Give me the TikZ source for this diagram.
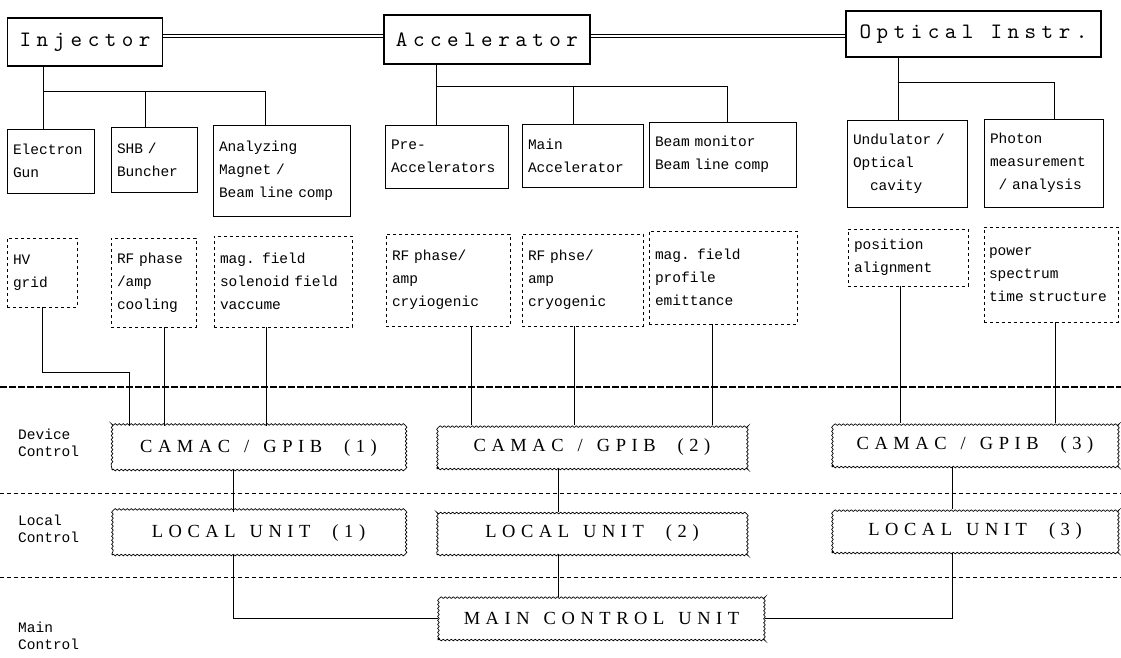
\documentclass[tikz,border=0pt]{standalone}
\usepackage{fontspec}
\usetikzlibrary{positioning, decorations.pathmorphing}
\newfontfamily\dotfont{Liberation Mono}
\newfontfamily\sysfont[LetterSpace=25]{lmmono10-regular.otf}
\newfontfamily\unitfont[LetterSpace=30]{Liberation Serif}
\newcommand{\gap}{\hspace{14pt}}
\newcommand{\numgap}{\hspace{22pt}}

\begin{document}
\begin{tikzpicture}[x=1pt, y=-1pt,
        sysbox/.style={draw, line width=1.5pt, inner sep=0pt, font=\sysfont\fontsize{22}{24}\selectfont},
        part/.style={draw, line width=0.9pt, inner xsep=6pt, inner ysep=0pt, align=left,
                     font=\dotfont\fontsize{14.5}{23}\selectfont},
        param/.style={part, line width=0.8pt, dash pattern=on 3pt off 3pt},
        unit/.style={draw, line width=0.7pt, inner sep=0pt, decorate,
                     decoration={snake, segment length=4pt, amplitude=0.8pt},
                     font=\unitfont\fontsize{18.5}{20}\selectfont},
        wire/.style={line width=0.9pt},
        dbl/.style={double, double distance=1.4pt, line width=1pt},
        lvl/.style={align=left, anchor=west, inner sep=0pt, font=\dotfont\fontsize{14.5}{17}\selectfont},
    ]
    \useasboundingbox (0,0) rectangle (1121,657);

    % top level systems
    \node[sysbox, minimum width=155pt, minimum height=48pt] (inj) at (85,42) {Injector};
    \node[sysbox, minimum width=206pt, minimum height=49pt] (acc) at (487,39.5) {Accelerator};
    \node[sysbox, minimum width=255pt, minimum height=46pt] (opt) at (973.5,34) {Optical Instr.};
    \coordinate (lnk) at (0,36);
    \draw[dbl] (inj.east |- lnk) -- (acc.west |- lnk);
    \draw[dbl] (acc.east |- lnk) -- (opt.west |- lnk);

    % components
    \node[part, text width=75pt, minimum height=64pt] (gun) at (50.5,161) {Electron\\Gun};
    \node[part, text width=74pt, minimum height=65pt] (shb) at (154,159.5) {SHB /\\Buncher};
    \node[part, text width=125pt, minimum height=91pt] (anl) at (281.5,170.5) {Analyzing\\Magnet /\\Beam line comp};
    \node[part, text width=111pt, minimum height=63pt] (pre) at (446.5,156.5) {Pre-\\Accelerators};
    \node[part, text width=109pt, minimum height=63pt] (macc) at (582.5,155.5) {Main\\Accelerator};
    \node[part, text width=135pt, minimum height=65pt] (beam) at (722.5,154.5) {Beam monitor\\Beam line comp};
    \node[part, text width=108pt, minimum height=87pt] (und) at (907,163.5) {Undulator /\\Optical\\\hspace*{17pt}cavity};
    \node[part, text width=107pt, minimum height=88pt] (pho) at (1043.5,163) {Photon\\measurement\\\hspace*{8.7pt}/ analysis};

    % tree branches
    \coordinate (ib1) at (43,91);
    \coordinate (ib2) at (145,91);
    \coordinate (ib3) at (265,91);
    \draw[wire] (inj.south -| ib1) -- (gun.north -| ib1);
    \draw[wire] (ib1) -- (ib3) -- (ib3 |- anl.north);
    \draw[wire] (ib2) -- (ib2 |- shb.north);
    \coordinate (ab1) at (436,86);
    \coordinate (ab2) at (573,86);
    \coordinate (ab3) at (727,86);
    \draw[wire] (acc.south -| ab1) -- (pre.north -| ab1);
    \draw[wire] (ab1) -- (ab3) -- (ab3 |- beam.north);
    \draw[wire] (ab2) -- (ab2 |- macc.north);
    \coordinate (ob1) at (898,82);
    \coordinate (ob2) at (1054,82);
    \draw[wire] (opt.south -| ob1) -- (und.north -| ob1);
    \draw[wire] (ob1) -- (ob2) -- (ob2 |- pho.north);

    % monitored parameters
    \node[param, text width=58pt, minimum height=69pt] (hv) at (42,272.5) {HV\\grid};
    \node[param, text width=73pt, minimum height=89pt] (rf1) at (153.5,282.5) {RF phase\\/amp\\cooling};
    \node[param, text width=126pt, minimum height=91pt] (mag1) at (283,281.5) {mag. field\\solenoid field\\vaccume};
    \node[param, text width=112pt, minimum height=92pt] (rf2) at (448,280) {RF phase/\\amp\\cryiogenic};
    \node[param, text width=109pt, minimum height=92pt] (rf3) at (582.5,280) {RF phse/\\amp\\cryogenic};
    \node[param, text width=136pt, minimum height=93pt] (mag2) at (723,277.5) {mag. field\\profile\\emittance};
    \node[param, text width=108pt, minimum height=57pt] (pos) at (908,257.5) {position\\alignment};
    \node[param, text width=124pt, inner xsep=5pt, minimum height=95pt] (pow) at (1051,274.5) {power\\spectrum\\time structure};

    % level borders
    \draw[line width=1.8pt, dash pattern=on 7pt off 2pt] (0,387) -- (1121,387);
    \draw[line width=0.6pt, dash pattern=on 4pt off 3pt] (0,493) -- (1121,493);
    \draw[line width=0.6pt, dash pattern=on 4pt off 3pt] (0,577) -- (1121,577);

    \node[lvl] (devlbl) at (18,443) {Device\\Control};
    \node[lvl] (loclbl) at (18,529) {Local\\Control};
    \node[lvl] (mainlbl) at (18,636) {Main\\Control};

    % control units
    \node[unit, minimum width=293pt, minimum height=44pt] (cam1) at (258.5,448) {CAMAC\gap/\gap GPIB\numgap(1)};
    \node[unit, minimum width=310pt, minimum height=44pt] (cam2) at (592,447) {CAMAC\gap/\gap GPIB\numgap(2)};
    \node[unit, minimum width=286pt, minimum height=44pt] (cam3) at (975,445) {CAMAC\gap/\gap GPIB\numgap(3)};
    \node[unit, minimum width=293pt, minimum height=43pt] (lu1) at (258.5,533.5) {LOCAL\gap UNIT\numgap(1)};
    \node[unit, minimum width=310pt, minimum height=43pt] (lu2) at (592,533.5) {LOCAL\gap UNIT\numgap(2)};
    \node[unit, minimum width=286pt, minimum height=44pt] (lu3) at (975,531) {LOCAL\gap UNIT\numgap(3)};
    \node[unit, minimum width=327pt, minimum height=43pt] (main) at (601.5,618.5) {MAIN\gap CONTROL\gap UNIT};

    % signal lines
    \coordinate (hvk) at (129,372);
    \draw[wire] (hv.south) |- (hvk) -- (hvk |- cam1.north);
    \foreach \p/\c/\xx in {rf1/cam1/164, mag1/cam1/266, rf2/cam2/471, rf3/cam2/574,
                           mag2/cam2/712, pos/cam3/900, pow/cam3/1055}
        \draw[wire] (\p.south -| \xx,0) -- (\c.north -| \xx,0);
    \foreach \c/\l/\xx in {cam1/lu1/233, cam2/lu2/558, cam3/lu3/952}
        \draw[wire] (\c.south -| \xx,0) -- (\l.north -| \xx,0);
    \draw[wire] (lu1.south -| 233,0) |- (main.west);
    \draw[wire] (lu2.south -| 558,0) -- (main.north -| 558,0);
    \draw[wire] (lu3.south -| 952,0) |- (main.east);
\end{tikzpicture}
\end{document}
